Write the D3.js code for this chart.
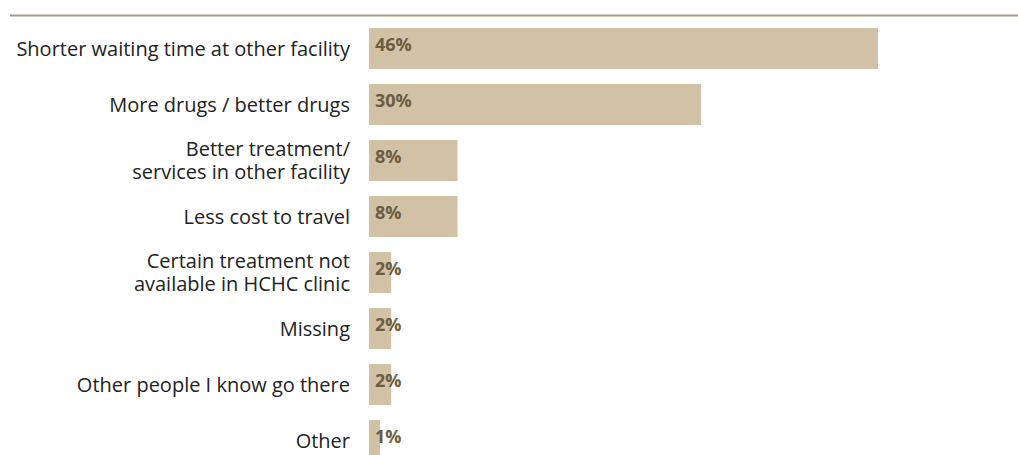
<!DOCTYPE html>
<html><head><meta charset="utf-8">
<script src="https://cdn.jsdelivr.net/npm/d3@7"></script>
<style>body{margin:0;background:#fff}</style>
</head><body>
<script>
const categories = [
  ["Shorter waiting time at other facility"],
  ["More drugs / better drugs"],
  ["Better treatment/", "services in other facility"],
  ["Less cost to travel"],
  ["Certain treatment not", "available in HCHC clinic"],
  ["Missing"],
  ["Other people I know go there"],
  ["Other"]
];
const values = [46, 30, 8, 8, 2, 2, 2, 1];
const valueLabels = ["46%", "30%", "8%", "8%", "2%", "2%", "2%", "1%"];

const W = 1018, H = 455;
const svg = d3.select("body").append("svg").attr("width", W).attr("height", H);
const ids = d3.range(categories.length);
const y = d3.scaleBand().domain(ids).range([20.5, 468.5]).paddingInner(15/56).paddingOuter(15/112);
const x = d3.scaleLinear().domain([0, 46]).range([369, 878]);

svg.append("line").attr("x1", 10).attr("x2", W).attr("y1", 15.5).attr("y2", 15.5)
  .attr("stroke", "#a89c80").attr("stroke-width", 2);

svg.selectAll("rect.bar").data(ids).join("rect").attr("class", "bar")
  .attr("x", x(0)).attr("y", i => y(i))
  .attr("width", i => x(values[i]) - x(0)).attr("height", y.bandwidth())
  .attr("fill", "#d1c1a5");

svg.selectAll("text.val").data(ids).join("text").attr("class", "val")
  .attr("x", x(0) + 6).attr("y", i => y(i) + 22.5)
  .attr("font-family", "Open Sans, sans-serif").attr("font-weight", "bold")
  .attr("font-size", 18).attr("fill", "#6b5b3f")
  .text(i => valueLabels[i]);

const lab = svg.selectAll("text.cat").data(ids).join("text").attr("class", "cat")
  .attr("text-anchor", "end")
  .attr("font-family", "Open Sans, sans-serif").attr("font-size", 20).attr("fill", "#222");
lab.each(function(i) {
  const lines = categories[i];
  const cy = y(i) + y.bandwidth() / 2;
  const lh = 23;
  lines.forEach((t, k) => {
    d3.select(this).append("tspan").attr("x", 350)
      .attr("y", cy + (k - (lines.length - 1) / 2) * lh + 7)
      .text(t);
  });
});
</script>
</body></html>
